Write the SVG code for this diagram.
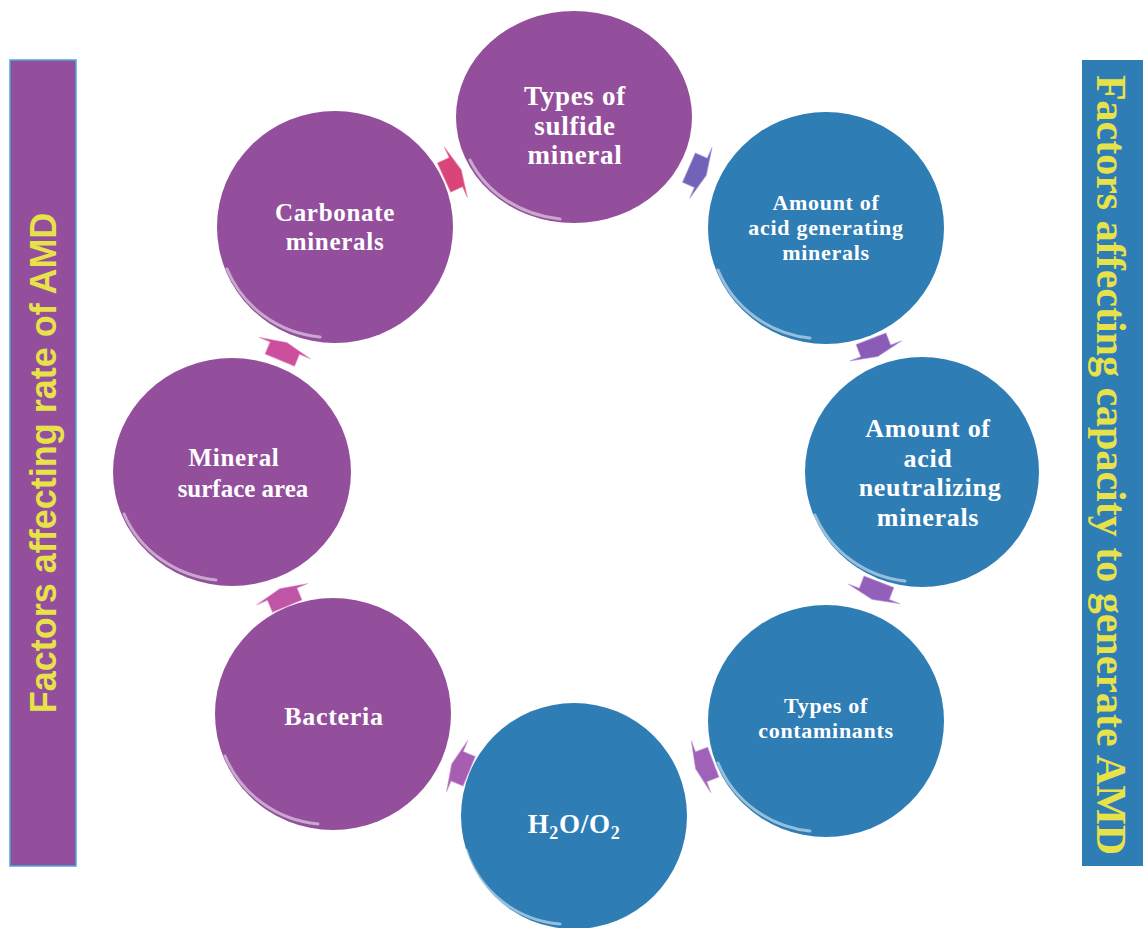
<svg xmlns="http://www.w3.org/2000/svg" width="1143" height="928" viewBox="0 0 1143 928">
<style>
.purple{fill:#934f9c}
.blue{fill:#2f7db5}
.hl{fill:none;stroke:#ffffff;stroke-width:3;stroke-opacity:0.5;stroke-linecap:round}
.t{font-family:"Liberation Serif","Times New Roman",serif;font-weight:bold;fill:#ffffff;text-anchor:middle;letter-spacing:0.7px}
.arrow{stroke-width:1;stroke-opacity:0.6}
</style>
<defs>
<path id="arw" d="M-11,-16 L2,-16 L2,-28 L8,0 L2,28 L2,16 L-11,16 Z"/>
</defs>
<rect width="1143" height="928" fill="#ffffff"/>
<g id="bar-left">
<rect x="10" y="60" width="66" height="806" fill="#934f9c" stroke="#4aa8e0" stroke-width="1.5"/>
<text transform="translate(56,463) rotate(-90)" font-family="'Liberation Sans',Arial,sans-serif" font-weight="bold" font-size="36" fill="#e8e24a" text-anchor="middle">Factors affecting rate of AMD</text>
</g>
<g id="bar-right">
<rect x="1082" y="60" width="70" height="806" fill="#2f7db5"/>
<text transform="translate(1097,465) rotate(90)" font-family="'Liberation Serif','Times New Roman',serif" font-weight="bold" font-size="42" fill="#e8e24a" text-anchor="middle">Factors affecting capacity to generate AMD</text>
</g>
<g id="connectors">
<use href="#arw" transform="translate(454,173) rotate(-24.6)" fill="#d9457a" stroke="#f08aa8" class="arrow"/>
<use href="#arw" transform="translate(699,172) rotate(23.7)" fill="#7462b8" stroke="#a898dc" class="arrow"/>
<use href="#arw" transform="translate(875,349) rotate(68.7)" fill="#8a5cb8" stroke="#b89ade" class="arrow"/>
<use href="#arw" transform="translate(875,592) rotate(110.9)" fill="#9260b8" stroke="#bf9ade" class="arrow"/>
<use href="#arw" transform="translate(703,766) rotate(159.3)" fill="#a062b8" stroke="#c89ade" class="arrow"/>
<use href="#arw" transform="translate(459,767) rotate(202.5)" fill="#a65db2" stroke="#cf9ad8" class="arrow"/>
<use href="#arw" transform="translate(283,596) rotate(247.4)" fill="#c055a8" stroke="#e39ad0" class="arrow"/>
<use href="#arw" transform="translate(284,350) rotate(292.7)" fill="#cc4f9e" stroke="#ef9acb" class="arrow"/>
</g>
<g id="n1">
<ellipse cx="574" cy="117" rx="118" ry="106" class="purple"/>
<path class="hl" d="M470,160 A112,100 0 0 0 560,219"/>
<text class="t" font-size="27"><tspan x="575" y="105">Types of</tspan><tspan x="575" y="135">sulfide</tspan><tspan x="575" y="164">mineral</tspan></text>
</g>
<g id="n2">
<ellipse cx="826" cy="228" rx="118" ry="116" class="blue"/>
<path class="hl" d="M718,270 A112,110 0 0 0 810,338"/>
<text class="t" font-size="22"><tspan x="826" y="210">Amount of</tspan><tspan x="826" y="235">acid generating</tspan><tspan x="826" y="260">minerals</tspan></text>
</g>
<g id="n3">
<ellipse cx="922" cy="472" rx="117" ry="115" class="blue"/>
<path class="hl" d="M815,515 A111,109 0 0 0 905,581"/>
<text class="t" font-size="26"><tspan x="928" y="437">Amount of</tspan><tspan x="928" y="467">acid</tspan><tspan x="930" y="496">neutralizing</tspan><tspan x="928" y="526">minerals</tspan></text>
</g>
<g id="n4">
<ellipse cx="826" cy="721" rx="118" ry="116" class="blue"/>
<path class="hl" d="M718,763 A112,110 0 0 0 810,831"/>
<text class="t" font-size="22"><tspan x="826" y="713">Types of</tspan><tspan x="826" y="738">contaminants</tspan></text>
</g>
<g id="n5">
<ellipse cx="574" cy="816" rx="113" ry="113" class="blue"/>
<path class="hl" d="M466,850 A108,108 0 0 0 560,924"/>
<text class="t" font-size="27" x="574" y="833">H<tspan font-size="18" dy="6">2</tspan><tspan dy="-6">O/O</tspan><tspan font-size="18" dy="6">2</tspan></text>
</g>
<g id="n6">
<ellipse cx="333" cy="714" rx="118" ry="116" class="purple"/>
<path class="hl" d="M225,756 A112,110 0 0 0 318,824"/>
<text class="t" font-size="26" x="334" y="725">Bacteria</text>
</g>
<g id="n7">
<ellipse cx="232" cy="472" rx="119" ry="114" class="purple"/>
<path class="hl" d="M124,514 A113,108 0 0 0 216,580"/>
<text class="t" font-size="25"><tspan x="234" y="466">Mineral</tspan><tspan x="243" y="497" letter-spacing="0">surface area</tspan></text>
</g>
<g id="n8">
<ellipse cx="335" cy="227" rx="118" ry="116" class="purple"/>
<path class="hl" d="M227,269 A112,110 0 0 0 320,337"/>
<text class="t" font-size="25"><tspan x="335" y="221">Carbonate</tspan><tspan x="335" y="250">minerals</tspan></text>
</g>
</svg>
